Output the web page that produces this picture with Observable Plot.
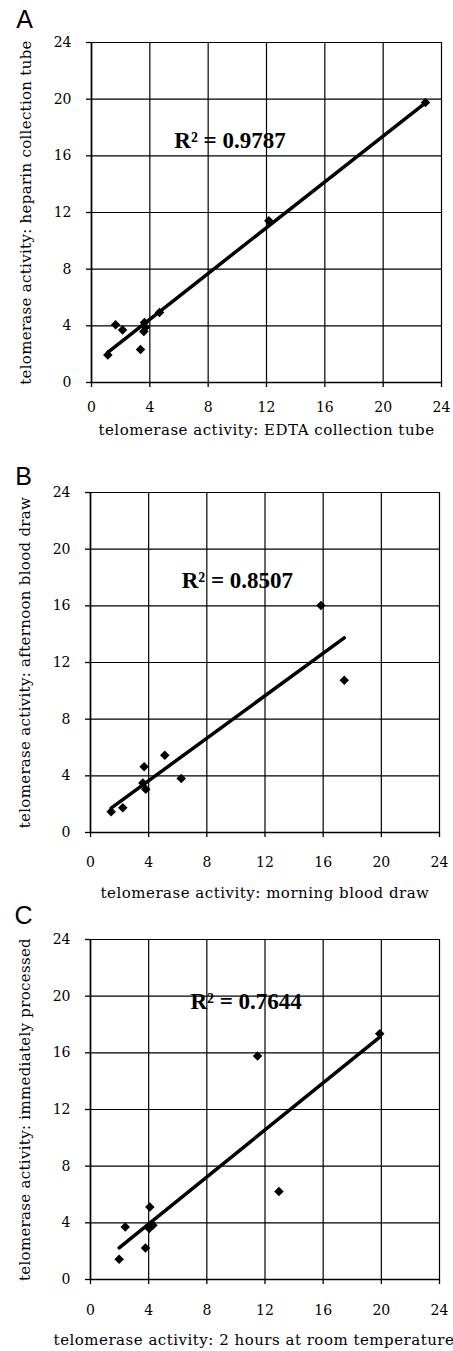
<!DOCTYPE html>
<html>
<head>
<meta charset="utf-8">
<script src="https://cdn.jsdelivr.net/npm/d3@7"></script>
<script src="https://cdn.jsdelivr.net/npm/@observablehq/plot@0.6"></script>
<style>
  html, body { margin: 0; padding: 0; background: white; }
  #chart svg { display: block; overflow: visible; }
</style>
</head>
<body>
<div id="chart"></div>
<script>
// Axis ticks
const tickValues = [0, 4, 8, 12, 16, 20, 24];

// Panel A: EDTA vs heparin
const aX = [1.12, 1.65, 2.13, 3.36, 3.59, 3.63, 3.7, 4.66, 12.16, 22.9];
const aY = [1.95, 4.07, 3.7, 2.33, 3.6, 4.24, 3.9, 4.94, 11.41, 19.76];
const aLetter = "A";
const aXLabel = "telomerase activity: EDTA collection tube";
const aYLabel = "telomerase activity: heparin collection tube";
const aR2 = "R² = 0.9787";
const aR2Pos = [9.5, 17.1];

// Panel B: morning vs afternoon
const bX = [1.42, 2.22, 3.69, 3.6, 3.8, 5.11, 6.24, 15.85, 17.45];
const bY = [1.46, 1.74, 4.64, 3.5, 3.06, 5.46, 3.81, 16.02, 10.75];
const bLetter = "B";
const bXLabel = "telomerase activity: morning blood draw";
const bYLabel = "telomerase activity: afternoon blood draw";
const bR2 = "R² = 0.8507";
const bR2Pos = [10.1, 17.8];

// Panel C: 2 hours at room temp vs immediately processed
const cX = [1.97, 2.39, 3.78, 4.08, 4.04, 4.29, 11.49, 12.96, 19.89];
const cY = [1.43, 3.71, 2.23, 5.12, 3.6, 3.83, 15.77, 6.21, 17.35];
const cLetter = "C";
const cXLabel = "telomerase activity: 2 hours at room temperature";
const cYLabel = "telomerase activity: immediately processed";
const cR2 = "R² = 0.7644";
const cR2Pos = [10.7, 19.6];

const labelFont = "'DejaVu Serif', serif";

function panel(o) {
  const data = o.xs.map((x, i) => ({x, y: o.ys[i]}));
  const svg = Plot.plot({
    width: 453,
    height: o.height,
    marginLeft: o.marginLeft,
    marginRight: o.marginRight,
    marginTop: o.marginTop,
    marginBottom: o.marginBottom,
    style: {fontFamily: labelFont, background: "none", color: "black", overflow: "visible"},
    x: {domain: [0, 24]},
    y: {domain: [0, 24]},
    marks: [
      Plot.gridX(tickValues, {stroke: "black", strokeOpacity: 1, strokeWidth: 1.2}),
      Plot.gridY(tickValues, {stroke: "black", strokeOpacity: 1, strokeWidth: 1.2}),
      Plot.ruleX([0], {stroke: "black", strokeWidth: 1.6}),
      Plot.ruleY([0], {stroke: "black", strokeWidth: 1.6}),
      Plot.axisX(tickValues, {tickSize: 5, tickPadding: o.xTickPadding, fontSize: 14, label: null, strokeWidth: 1.3}),
      Plot.axisY(tickValues, {tickSize: 5, tickPadding: 15, fontSize: 14, label: null, strokeWidth: 1.3}),
      Plot.linearRegressionY(data, {x: "x", y: "y", ci: 0, stroke: "black", strokeWidth: 3.5}),
      Plot.dot(data, {x: "x", y: "y", symbol: "diamond2", fill: "black", stroke: "none", r: 4.3}),
      Plot.text([o.r2], {x: o.r2Pos[0], y: o.r2Pos[1], text: d => d, fontWeight: "bold", fontSize: 23,
        fontFamily: "'Liberation Serif', serif"}),
      Plot.text([o.xLabel], {frameAnchor: "bottom", text: d => d, dx: o.xLabelDx, dy: o.xLabelDy, fontSize: 15,
        textAnchor: "middle", lineAnchor: "middle"}),
      Plot.text([o.yLabel], {frameAnchor: "left", text: d => d, rotate: -90, dx: -65, fontSize: 15,
        textAnchor: "middle", lineAnchor: "middle"}),
      Plot.text([o.letter], {frameAnchor: "top-left", text: d => d, dx: -67, dy: o.letterDy,
        textAnchor: "middle", lineAnchor: "middle",
        fontFamily: "'Liberation Sans', Arial, sans-serif", fontSize: 25})
    ]
  });
  d3.select(svg).selectAll("text")
    .filter(function() { return this.textContent === o.xLabel; })
    .attr("letter-spacing", 0.5);
  d3.select(svg).selectAll("text")
    .filter(function() { return this.textContent === o.yLabel; })
    .attr("letter-spacing", 0.3);
  return svg;
}

const chart = document.getElementById("chart");
chart.append(panel({xs: aX, ys: aY, letter: aLetter, xLabel: aXLabel, yLabel: aYLabel, r2: aR2, r2Pos: aR2Pos,
  height: 445, marginLeft: 91, marginRight: 12, marginTop: 42, marginBottom: 63, xTickPadding: 15,
  xLabelDx: 0, xLabelDy: 48, letterDy: -23}));
chart.append(panel({xs: bX, ys: bY, letter: bLetter, xLabel: bXLabel, yLabel: bYLabel, r2: bR2, r2Pos: bR2Pos,
  height: 456, marginLeft: 90, marginRight: 14, marginTop: 47, marginBottom: 69, xTickPadding: 20,
  xLabelDx: 0, xLabelDy: 61, letterDy: -16}));
chart.append(panel({xs: cX, ys: cY, letter: cLetter, xLabel: cXLabel, yLabel: cYLabel, r2: cR2, r2Pos: cR2Pos,
  height: 450, marginLeft: 90, marginRight: 14, marginTop: 38, marginBottom: 72, xTickPadding: 21,
  xLabelDx: -11, xLabelDy: 61, letterDy: -24}));
</script>
</body>
</html>
